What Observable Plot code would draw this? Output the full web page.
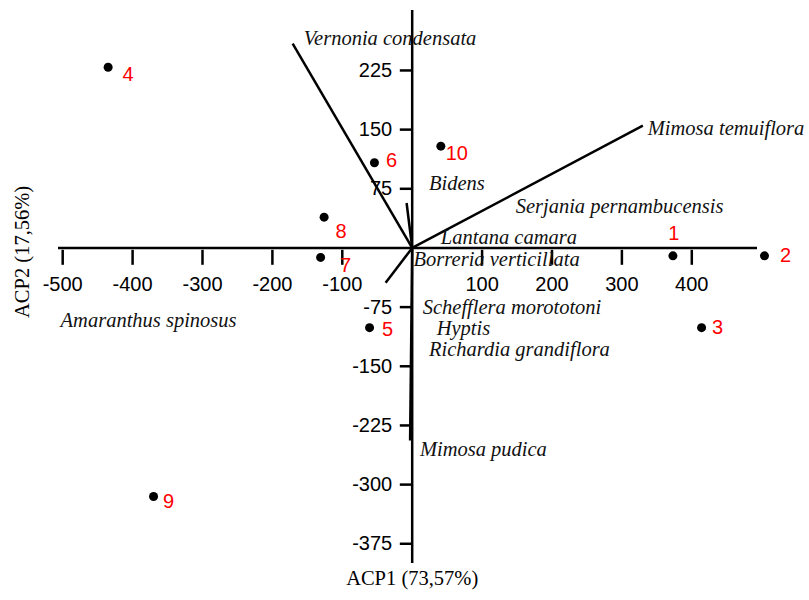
<!DOCTYPE html>
<html>
<head>
<meta charset="utf-8">
<script src="https://cdn.jsdelivr.net/npm/d3@7"></script>
<script src="https://cdn.jsdelivr.net/npm/@observablehq/plot@0.6"></script>
<style>
  html, body { margin: 0; padding: 0; background: #fff; }
</style>
</head>
<body>
<div id="chart"></div>
<script>
// Axis ticks
const xTicks = [-500, -400, -300, -200, -100, 100, 200, 300, 400];
const yTicks = [225, 150, 75, -75, -150, -225, -300, -375];

// Observations (ACP1, ACP2)
const obsIds = ["1", "2", "3", "4", "5", "6", "7", "8", "9", "10"];
const obsX = [373, 504, 414, -435, -61, -54, -131, -126, -370, 41];
const obsY = [-10, -10, -101, 229, -101, 108, -12, 39, -315, 129];

// Species vectors (end points)
const vecNames = ["Vernonia condensata", "Mimosa temuiflora", "Amaranthus spinosus", "Bidens", "Mimosa pudica"];
const vecX = [-171, 330, -38, -8, -3];
const vecY = [259, 155, -44, 57, -244];

// Species labels (anchor points)
const spNames = ["Vernonia condensata", "Mimosa temuiflora", "Bidens", "Serjania pernambucensis",
  "Lantana camara", "Borreria verticillata", "Amaranthus spinosus", "Schefflera morototoni",
  "Hyptis", "Richardia grandiflora", "Mimosa pudica"];
const spX = [-155, 337, 24, 148, 41, 2, -503, 15, 35, 24, 11];
const spY = [266, 151, 82, 52, 13, -15, -92, -76, -102, -129, -256];

// label offsets in pixels for observation numbers
const obsLabelOffsets = [[1, -22], [21, 0], [16, 0], [20, 7], [18, 2], [17, -2], [25, 8], [17, 14], [15, 5], [16, 7]];

const obs = obsIds.map((id, i) => ({id, x: obsX[i], y: obsY[i]}));
const vecs = vecNames.map((n, i) => ({name: n, x: vecX[i], y: vecY[i]}));
const sps = spNames.map((n, i) => ({name: n, x: spX[i], y: spY[i]}));

const serif = "'Liberation Serif', 'Times New Roman', serif";
const sans = "'Liberation Sans', Arial, sans-serif";

const chart = Plot.plot({
  width: 809,
  height: 600,
  marginLeft: 58,
  marginRight: 52,
  marginTop: 10,
  marginBottom: 37,
  x: {domain: [-506, 494], axis: null},
  y: {domain: [-400, 301], axis: null},
  style: {fontFamily: sans, background: "#fff", overflow: "visible"},
  marks: [
    // axes
    Plot.ruleY([0], {stroke: "#000", strokeWidth: 2.5}),
    Plot.ruleX([0], {stroke: "#000", strokeWidth: 2.5}),
    // x ticks
    Plot.ruleX(xTicks, {x: d => d, y1: -3, y2: -22, stroke: "#000", strokeWidth: 2.5}),
    Plot.text(xTicks, {x: d => d, y: 0, dy: 37, text: d => String(d), fontSize: 20, fill: "#000", fontFamily: sans}),
    // y ticks
    Plot.ruleY(yTicks, {y: d => d, x1: -17, x2: 0, stroke: "#000", strokeWidth: 2.5}),
    Plot.text(yTicks, {x: 0, y: d => d, dx: -20, textAnchor: "end", text: d => String(d), fontSize: 20, fill: "#000", fontFamily: sans}),
    // vectors
    Plot.link(vecs, {x1: 0, y1: 0, x2: "x", y2: "y", stroke: "#000", strokeWidth: 2.5}),
    // species names
    Plot.text(sps, {x: "x", y: "y", text: "name", textAnchor: "start", fontSize: 20.5, fontStyle: "italic", fontFamily: serif, fill: "#111"}),
    // observations
    Plot.dot(obs, {x: "x", y: "y", r: 4.5, fill: "#000", stroke: null}),
    ...obs.map((o, i) => Plot.text([o], {x: "x", y: "y", text: "id", dx: obsLabelOffsets[i][0], dy: obsLabelOffsets[i][1], fontSize: 20, fill: "#f00", fontFamily: sans})),
    // axis titles
    Plot.text(["ACP1 (73,57%)"], {x: 0, frameAnchor: "bottom", dy: 21, text: d => d, fontSize: 20.5, fontFamily: serif, fill: "#000"}),
    Plot.text(["ACP2 (17,56%)"], {y: -5, frameAnchor: "left", textAnchor: "middle", dx: -36, rotate: -90, text: d => d, fontSize: 20.5, fontFamily: serif, fill: "#000"})
  ]
});
document.getElementById("chart").appendChild(chart);
</script>
</body>
</html>
